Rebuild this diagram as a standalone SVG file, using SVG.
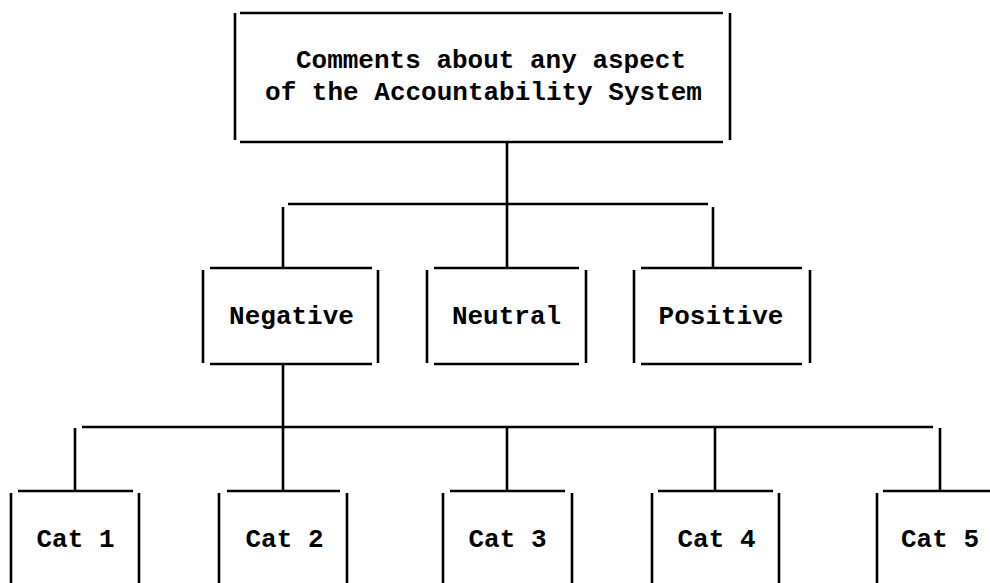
<svg xmlns="http://www.w3.org/2000/svg" width="990" height="583" viewBox="0 0 990 583">
<style>
.ln{stroke:#000;stroke-width:2.6;fill:none;stroke-linecap:butt}
.t{font-family:"Liberation Mono","DejaVu Sans Mono",monospace;font-weight:bold;font-size:26px;fill:#000;text-anchor:middle}
</style>
<rect width="990" height="583" fill="#fff"/>
<g id="connectors" class="ln">
<path d="M507 142V204M288 204H708M283 207V268M507 204V268M713 207V268"/>
<path d="M283 364V427M82 427H933M75 428V491M283 427V491M507 427V491M715 427V491M940 428V491"/>
</g>
<g id="root">
<path class="ln" d="M240 13H723M240 142H723M235 13V140M730 13V140"/>
<text class="t" x="491" y="68">Comments about any aspect</text>
<text class="t" x="483.5" y="100">of the Accountability System</text>
</g>
<g id="negative">
<path class="ln" d="M210 268H372M210 364H372M203 270V363M378 270V363"/>
<text class="t" x="291.5" y="324">Negative</text>
</g>
<g id="neutral">
<path class="ln" d="M434 268H579M434 364H579M427 270V363M586 270V363"/>
<text class="t" x="506.5" y="324">Neutral</text>
</g>
<g id="positive">
<path class="ln" d="M641 268H802M641 364H802M634 270V363M810 270V363"/>
<text class="t" x="721" y="324">Positive</text>
</g>
<g id="cat1">
<path class="ln" d="M18 491H133M11 493V583M139 493V583"/>
<text class="t" x="75.5" y="547">Cat 1</text>
</g>
<g id="cat2">
<path class="ln" d="M227 491H340M219 493V583M347 493V583"/>
<text class="t" x="284.5" y="547">Cat 2</text>
</g>
<g id="cat3">
<path class="ln" d="M450 491H565M443 493V583M572 493V583"/>
<text class="t" x="507.5" y="547">Cat 3</text>
</g>
<g id="cat4">
<path class="ln" d="M658 491H773M652 493V583M779 493V583"/>
<text class="t" x="716.5" y="547">Cat 4</text>
</g>
<g id="cat5">
<path class="ln" d="M883 491H995M877 493V583"/>
<text class="t" x="940" y="547">Cat 5</text>
</g>
</svg>
